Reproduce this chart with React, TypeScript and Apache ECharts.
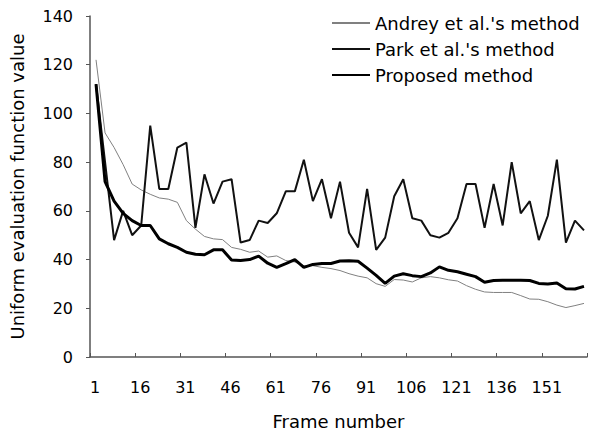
import React, { useEffect, useRef } from "react";
import * as echarts from "echarts";

// 0-based frame index of each sample (tick at index 0 is labelled "1")
const frameIndex = [
  2, 5, 8, 11, 14, 17, 20, 23, 26, 29, 32, 35, 38, 41, 44, 47, 50, 53, 56, 59,
  62, 65, 68, 71, 74, 77, 80, 83, 86, 89, 92, 95, 98, 101, 104, 107, 110, 113,
  116, 119, 122, 125, 128, 131, 134, 137, 140, 143, 146, 149, 152, 155, 158,
  161, 164,
];

const andrey = [
  122, 92, 86, 79, 71, 68.6, 66.8, 65.3, 64.8, 63.5, 56, 52.5, 49.5, 48.5, 48.2,
  45, 44.2, 43, 43.5, 41, 41.5, 39.6, 39, 37.5, 37.5, 36.8, 36.3, 35.5, 34.2,
  33.2, 32.5, 30.1, 29, 31.8, 31.6, 30.8, 32.5, 33, 32.5, 31.7, 31.2, 29.3,
  27.8, 26.7, 26.5, 26.5, 26.5, 25.2, 23.8, 23.7, 22.7, 21.3, 20.3, 21.1, 22,
];

const park = [
  112, 80, 48, 60, 50, 54, 95, 69, 69, 86, 88, 53, 75, 63, 72, 73, 47, 48, 56,
  55, 59, 68, 68, 81, 64, 73, 57, 72, 51, 45, 69, 44, 49, 66, 73, 57, 56, 50,
  49, 51, 57, 71, 71, 53, 71, 54, 80, 59, 64, 48, 58, 81, 47, 56, 52,
];

const proposed = [
  112, 72, 64, 59, 56, 54, 54, 48.5, 46.5, 45, 43, 42.2, 42, 44, 44, 39.8, 39.6,
  40, 41.4, 38.5, 36.8, 38.3, 40, 36.8, 38, 38.4, 38.4, 39.4, 39.5, 39.3, 36.5,
  33.5, 30.2, 33.2, 34.2, 33.4, 33, 34.5, 37, 35.6, 35, 34, 33, 30.7, 31.4,
  31.5, 31.5, 31.5, 31.4, 30.2, 30, 30.4, 28, 27.9, 29,
];

const xTickLabels = ["1", "16", "31", "46", "61", "76", "91", "106", "121", "136", "151"];
const seriesNames = ["Andrey et al.'s method", "Park et al.'s method", "Proposed method"];

export default function App() {
  const ref = useRef<HTMLDivElement>(null);
  useEffect(() => {
    const chart = echarts.init(ref.current!, null, { renderer: "svg" });
    const pair = (vals: number[]) => frameIndex.map((f, i) => [f, vals[i]]);
    const font = "DejaVu Sans";
    chart.setOption({
      animation: false,
      textStyle: { fontFamily: font, color: "#000" },
      grid: { left: 90, right: 3, top: 16, bottom: 79, containLabel: false },
      legend: {
        orient: "vertical",
        left: 326,
        top: 9,
        itemWidth: 38,
        itemHeight: 12,
        itemGap: 8,
        itemStyle: { opacity: 0, borderWidth: 0, color: "rgba(0,0,0,0)" },
        textStyle: { fontSize: 18, color: "#000", fontFamily: font },
        data: seriesNames,
      },
      xAxis: {
        type: "value",
        min: 0,
        max: 165,
        interval: 15,
        name: "Frame number",
        nameLocation: "middle",
        nameGap: 55,
        nameTextStyle: { fontSize: 18, color: "#000", fontFamily: font },
        axisLine: { show: true, lineStyle: { color: "#555", width: 1.5 } },
        axisTick: { show: true, inside: true, length: 4, lineStyle: { color: "#555" } },
        axisLabel: {
          fontSize: 16,
          color: "#000",
          margin: 22,
          padding: [0, 0, 0, 10],
          fontFamily: font,
          formatter: (v: number) => xTickLabels[Math.round(v / 15)] ?? "",
        },
        splitLine: { show: false },
      },
      yAxis: {
        type: "value",
        min: 0,
        max: 140,
        interval: 20,
        name: "Uniform evaluation function value",
        nameLocation: "middle",
        nameGap: 64,
        nameTextStyle: { fontSize: 18, color: "#000", fontFamily: font },
        axisLine: { show: true, lineStyle: { color: "#555", width: 1.5 } },
        axisTick: { show: true, length: 4, lineStyle: { color: "#555" } },
        axisLabel: { fontSize: 16, color: "#000", margin: 17, fontFamily: font },
        splitLine: { show: false },
      },
      series: [
        {
          name: seriesNames[0],
          type: "line",
          symbol: "none",
          data: pair(andrey),
          lineStyle: { color: "#808080", width: 1 },
          itemStyle: { color: "#808080" },
          z: 2,
        },
        {
          name: seriesNames[1],
          type: "line",
          symbol: "none",
          data: pair(park),
          lineStyle: { color: "#111", width: 2 },
          itemStyle: { color: "#111" },
          z: 3,
        },
        {
          name: seriesNames[2],
          type: "line",
          symbol: "none",
          data: pair(proposed),
          lineStyle: { color: "#000", width: 3 },
          itemStyle: { color: "#000" },
          z: 4,
        },
      ],
    });
    return () => chart.dispose();
  }, []);
  return (
    <div
      ref={ref}
      style={{ position: "absolute", left: 0, top: 0, width: 590, height: 436, background: "#fff" }}
    />
  );
}
